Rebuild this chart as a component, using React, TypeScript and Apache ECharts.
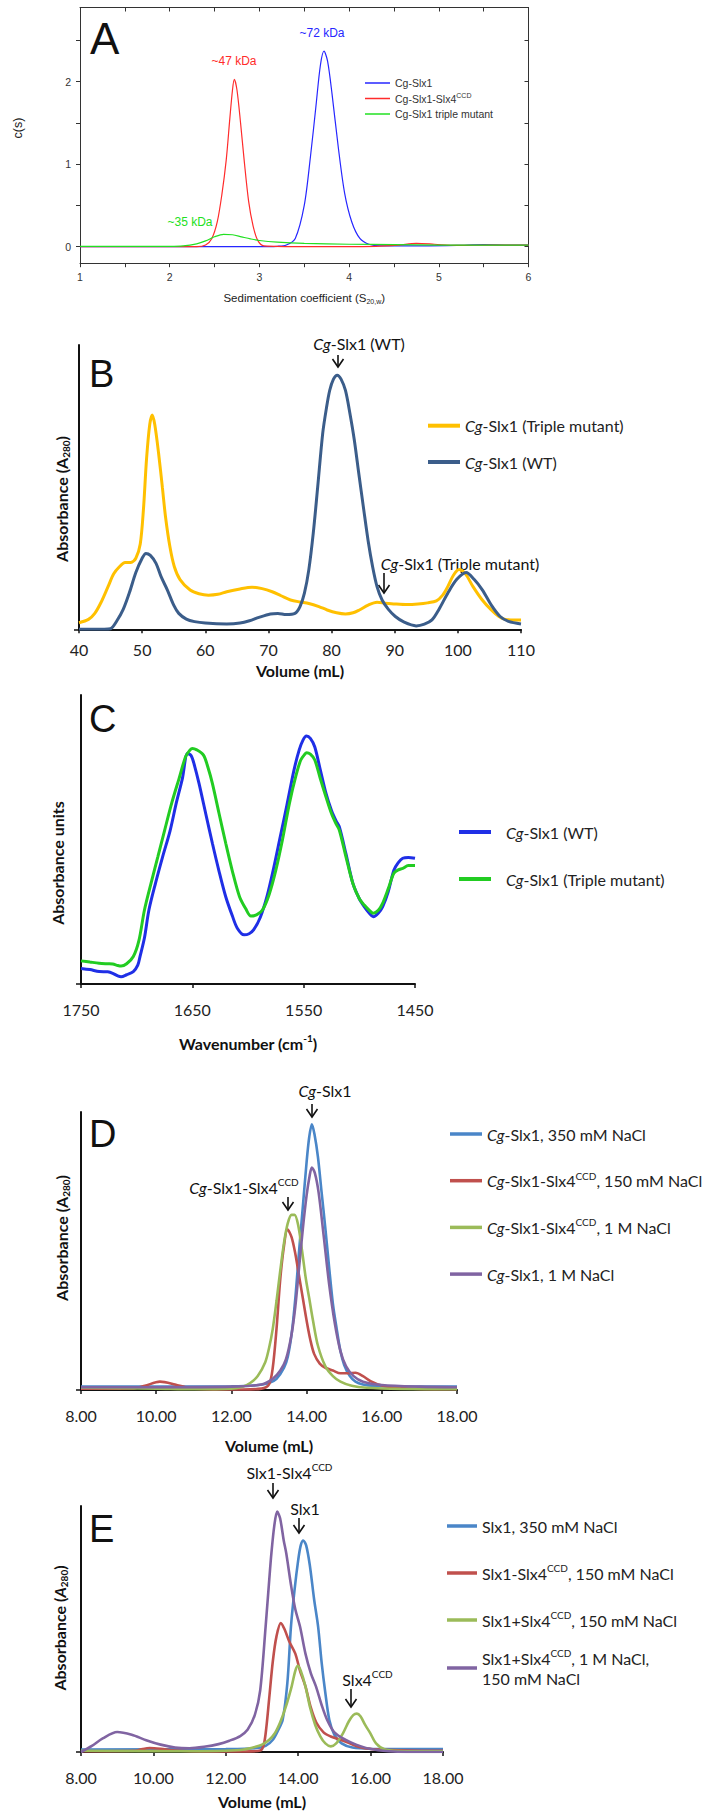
import React, { useEffect, useRef } from 'react';
import * as echarts from 'echarts';

// ---------- Panel A : c(s) distributions ----------
const aXLabelVals = [1, 2, 3, 4, 5, 6];
const aXTickVals = [1, 1.5, 2, 2.5, 3, 3.5, 4, 4.5, 5, 5.5, 6];
const aYLabelVals = [0, 1, 2];
const aYTickVals = [0, 0.5, 1, 1.5, 2, 2.5];
const aBlue = [[1, 0], [2, 0], [3, 0], [3.2, 0.005], [3.3, 0.02], [3.4, 0.1], [3.5, 0.5], [3.57, 1.1], [3.63, 1.7], [3.68, 2.2], [3.72, 2.37], [3.76, 2.25], [3.81, 1.85], [3.88, 1.2], [3.95, 0.65], [4.03, 0.3], [4.12, 0.1], [4.22, 0.03], [4.35, 0.01], [4.8, 0.01], [5.2, 0.015], [5.5, 0.025], [5.8, 0.02], [6, 0.02]];
const aRed = [[1, 0], [2.3, 0], [2.4, 0.02], [2.47, 0.1], [2.53, 0.3], [2.58, 0.62], [2.63, 1.05], [2.67, 1.55], [2.7, 1.9], [2.72, 2.03], [2.75, 1.9], [2.79, 1.5], [2.83, 1.05], [2.88, 0.55], [2.93, 0.25], [2.98, 0.08], [3.05, 0.01], [3.5, 0], [4.3, 0.005], [4.55, 0.02], [4.75, 0.04], [4.95, 0.03], [5.2, 0.015], [5.6, 0.02], [6, 0.02]];
const aGreen = [[1, 0.005], [2.0, 0.005], [2.15, 0.01], [2.3, 0.035], [2.4, 0.07], [2.5, 0.12], [2.6, 0.15], [2.7, 0.145], [2.8, 0.12], [2.9, 0.095], [3.0, 0.075], [3.2, 0.055], [3.5, 0.04], [4.0, 0.03], [4.5, 0.025], [5.0, 0.02], [6, 0.02]];

// ---------- Panel B : SEC, volume (mL) ----------
const bXMin = 40, bXMax = 110, bXStep = 10;
const bTriple = [[40, 2.3], [41.5, 3.5], [42.5, 5.6], [43.5, 9.5], [44.6, 15], [45.5, 19.5], [46.4, 22], [47.3, 23.5], [48.2, 23.5], [49, 25], [49.7, 30], [50.2, 42], [50.7, 60], [51.2, 72], [51.6, 75.4], [52, 72], [52.6, 62], [53.2, 50], [53.7, 39.6], [54.4, 29], [55.1, 22], [56, 17.5], [57.6, 13.8], [59, 12.5], [60.5, 12], [62, 12.3], [63.4, 13.2], [65.5, 14.2], [67.4, 14.8], [69, 14.3], [70.6, 13.2], [72, 11.8], [73.5, 10.3], [75, 9.6], [76.4, 9.1], [78, 8], [79.3, 6.8], [80.8, 5.8], [82.2, 5.4], [83.4, 5.8], [84.4, 6.8], [85.8, 8.5], [87.2, 9.5], [88.5, 9.2], [90.1, 8.9], [92, 8.7], [93.7, 8.9], [95.2, 9.3], [96.6, 10], [97.6, 12], [98.4, 15], [99.3, 19], [100.2, 21], [101.2, 19.5], [102.4, 15], [103.8, 10.5], [105.3, 6.8], [106.5, 4.5], [107.5, 3.5], [109, 3.3], [110, 3.3]];
const bWT = [[40, 0], [44, 0], [45, 0.2], [46, 3], [47, 7], [48, 13], [49, 20], [50, 25], [50.6, 26.7], [51.3, 26], [52.2, 23.2], [53, 18.5], [54, 13.8], [55, 8.5], [55.8, 5.6], [57, 3.6], [58.3, 2.7], [60, 2.2], [63.4, 1.9], [65.5, 2.2], [67, 3], [68.5, 4.2], [70.3, 5.4], [71.5, 5.6], [72.8, 5.2], [74.2, 5.6], [75, 8], [75.7, 12.7], [76.4, 21], [77.1, 33.8], [77.8, 50], [78.6, 69], [79.2, 78], [79.7, 84], [80.3, 88], [80.9, 89.4], [81.5, 88], [82.2, 84], [82.9, 76], [83.6, 66.6], [84.3, 55], [85.1, 42], [85.8, 31], [86.5, 22], [87.2, 15], [88, 10.3], [89, 7], [90.1, 4.5], [91.5, 2.5], [93.4, 1.2], [94.7, 1.8], [95.9, 3.3], [97, 7], [98.4, 12.7], [99.8, 17.5], [101.3, 20], [102.6, 17.5], [103.9, 13.8], [105.3, 8.5], [106.7, 4.5], [108, 2.8], [110, 1.9]];

// ---------- Panel C : FTIR, wavenumber (cm-1) ----------
const cXLabelVals = [1450, 1550, 1650, 1750];
const cWT = [[1750, 5.4], [1742, 5], [1733.7, 4.3], [1726, 4.2], [1721.5, 3.7], [1717, 2.8], [1714, 2.5], [1709, 3.2], [1703, 4.3], [1699, 6.5], [1697, 9.5], [1693, 16], [1689, 25.6], [1683, 35], [1676.7, 44], [1670, 53], [1664.5, 62.5], [1659, 71], [1654.3, 79.8], [1651, 79], [1648, 75.5], [1644, 69.4], [1638, 59], [1632, 48.7], [1626, 39], [1620, 30.2], [1614, 23.5], [1609.6, 19.3], [1603.5, 17], [1599, 17.4], [1595, 18.7], [1589, 23], [1583, 30.2], [1577, 40], [1571, 51], [1565, 62], [1558.7, 74], [1554, 81], [1550.6, 84.4], [1547.5, 85.8], [1544, 85], [1540, 82], [1535, 74], [1530, 66], [1525, 60], [1521, 56.5], [1518, 54.4], [1512, 45], [1505.8, 34.8], [1500, 29.5], [1495.6, 26.8], [1491, 24.5], [1487.5, 23.3], [1483, 24.5], [1479, 26.8], [1474, 32], [1469, 39.4], [1465, 42], [1461, 43.5], [1456, 43.8], [1450, 43.5]];
const cTriple = [[1750, 8], [1742, 7.6], [1733.7, 7.2], [1726, 7], [1721.5, 6.9], [1717, 6.4], [1714, 6.2], [1709, 7], [1703, 9.5], [1698, 15], [1693, 25.6], [1687, 35], [1681, 44], [1675, 53], [1668.6, 62.5], [1662, 71], [1656, 78.7], [1652, 81], [1650, 81.5], [1646, 81], [1640, 79.2], [1636, 75], [1632, 69.4], [1626, 59], [1620, 48.7], [1614, 39], [1607.6, 30.2], [1602, 26], [1597.4, 23.5], [1592, 24], [1587, 25.6], [1581, 31], [1575, 39.4], [1569, 50], [1562.8, 62.5], [1557, 72], [1552.6, 77.5], [1549, 79.5], [1547.3, 80], [1544, 79.5], [1540, 77.5], [1535, 71], [1530, 64.8], [1525, 59], [1521, 55.5], [1518, 53.3], [1512, 44], [1505.8, 34.8], [1500, 29.5], [1495.6, 27.3], [1491, 25.5], [1487.5, 24.5], [1483, 25.5], [1479, 28], [1474, 33], [1469, 38.3], [1465, 39.5], [1461, 40], [1456, 41], [1450, 41]];

// ---------- Panel D : SEC, volume (mL) ----------
const dXMin = 8, dXMax = 18, dXStep = 2;
const dSlx350 = [[8, 1.2], [10, 1.2], [12, 1.3], [12.6, 1.6], [13, 2.5], [13.2, 4], [13.4, 8], [13.5, 12], [13.6, 20], [13.7, 33], [13.8, 50], [13.9, 66], [14, 82], [14.07, 91], [14.14, 95.6], [14.21, 92], [14.3, 84], [14.4, 71], [14.5, 58], [14.6, 44], [14.7, 31], [14.8, 22], [14.9, 14], [15, 9], [15.15, 5], [15.3, 3], [15.5, 2], [15.8, 1.5], [16.5, 1.3], [18, 1.2]];
const dCplx150 = [[8, 0.5], [9.4, 0.6], [9.7, 1.5], [10.1, 3], [10.5, 2], [10.9, 0.6], [11.5, 0.2], [12.3, 0.2], [12.8, 0.5], [13.0, 2], [13.1, 8], [13.2, 22], [13.3, 40], [13.4, 52], [13.49, 57.8], [13.6, 55], [13.7, 49], [13.8, 41], [13.9, 33], [14.0, 25], [14.1, 18], [14.2, 13], [14.35, 9.5], [14.5, 8], [14.7, 7], [14.9, 6], [15.1, 6], [15.3, 6.2], [15.5, 5], [15.7, 3.2], [16, 1.6], [16.4, 0.8], [17, 0.4], [18, 0.3]];
const dCplx1M = [[8, 0.8], [10, 0.5], [11, 0.3], [12, 0.5], [12.3, 1.2], [12.5, 2.5], [12.7, 5], [12.9, 10], [13.0, 15], [13.1, 22], [13.2, 32], [13.3, 43], [13.4, 53], [13.5, 60], [13.6, 63], [13.68, 63], [13.78, 59], [13.88, 50], [13.98, 40], [14.07, 33], [14.17, 25], [14.3, 16], [14.5, 8.5], [14.7, 5], [14.9, 3], [15.2, 1.5], [15.6, 0.8], [16.5, 0.4], [18, 0.3]];
const dSlx1M = [[8, 1], [10, 1], [12, 1.2], [12.8, 2], [13.1, 4], [13.3, 7], [13.45, 11], [13.6, 20], [13.7, 30], [13.8, 44], [13.9, 58], [14, 70], [14.08, 77], [14.14, 80], [14.22, 78], [14.32, 71], [14.45, 56], [14.6, 38], [14.75, 24], [14.9, 14], [15.05, 8.5], [15.25, 5], [15.5, 3], [16, 1.8], [17, 1.2], [18, 1]];

// ---------- Panel E : SEC, volume (mL) ----------
const eXMin = 8, eXMax = 18, eXStep = 2;
const eSlx350 = [[8, 1], [12, 1.2], [12.8, 1.5], [13.1, 2.5], [13.3, 5], [13.45, 9], [13.57, 13], [13.7, 28], [13.8, 51], [13.9, 66], [14, 78], [14.07, 84], [14.14, 86], [14.22, 84], [14.32, 76], [14.44, 62], [14.55, 51], [14.65, 36], [14.75, 24], [14.86, 13], [15, 7], [15.2, 3.5], [15.5, 1.8], [16, 1.3], [18, 1.2]];
const eCplx150 = [[8, 0.3], [9.5, 0.5], [9.7, 1.2], [9.9, 1.6], [10.2, 1.3], [10.6, 0.6], [11.5, 0.2], [12.5, 0.2], [12.95, 0.6], [13.05, 3], [13.12, 10], [13.2, 22], [13.3, 37], [13.4, 47], [13.52, 52.4], [13.62, 50], [13.75, 45], [13.92, 40], [14.05, 33], [14.2, 26.7], [14.35, 18], [14.5, 12], [14.7, 8], [14.9, 6.3], [15.1, 5.3], [15.3, 4.3], [15.5, 3], [15.8, 1.6], [16.2, 1], [17, 0.6], [18, 0.5]];
const eMix150 = [[8, 0.5], [11, 0.3], [12, 0.5], [12.5, 1], [12.8, 2], [13.0, 3], [13.2, 5], [13.35, 7.5], [13.5, 12], [13.65, 18], [13.82, 26.7], [13.92, 33], [13.99, 35], [14.07, 33], [14.2, 26.7], [14.33, 18], [14.47, 11], [14.61, 6.4], [14.75, 3.5], [14.9, 2.3], [15.05, 3.5], [15.24, 7.7], [15.4, 12.5], [15.52, 15], [15.62, 15.6], [15.72, 14.5], [15.85, 11], [15.99, 7.7], [16.15, 3.5], [16.4, 1], [17, 0.3], [18, 0.3]];
const eMix1M = [[8, 0], [8.3, 2.5], [8.6, 5.5], [9, 8.1], [9.4, 7], [9.8, 4.8], [10.2, 3], [10.6, 1.8], [11, 1.5], [11.4, 2.1], [11.8, 3.2], [12.1, 4.6], [12.4, 6.5], [12.6, 9], [12.8, 15], [12.95, 25], [13.1, 51], [13.2, 70], [13.26, 80.8], [13.34, 92], [13.42, 97.7], [13.5, 95], [13.6, 86], [13.67, 80.8], [13.8, 68], [13.92, 58], [14.05, 51], [14.2, 40], [14.35, 32], [14.49, 26.7], [14.65, 19], [14.8, 13], [15, 8], [15.3, 5], [15.6, 3], [16, 1.2], [16.5, 0.3], [17, 0], [18, 0]];

// ---------- labels ----------
const legendText: Record<string, string> = {
  a1: 'Cg-Slx1',
  a2: 'Cg-Slx1-Slx4{sup|CCD}',
  a3: 'Cg-Slx1 triple mutant',
  b1: '{i|Cg}-Slx1 (Triple mutant)',
  b2: '{i|Cg}-Slx1 (WT)',
  c1: '{g| }{i|Cg}-Slx1 (WT)',
  c2: '{g| }{i|Cg}-Slx1 (Triple mutant)',
  d1: '{i|Cg}-Slx1, 350 mM NaCl',
  d2: '{i|Cg}-Slx1-Slx4{sup|CCD}, 150 mM NaCl',
  d3: '{i|Cg}-Slx1-Slx4{sup|CCD}, 1 M NaCl',
  d4: '{i|Cg}-Slx1, 1 M NaCl',
  e1: 'Slx1, 350 mM NaCl',
  e2: 'Slx1-Slx4{sup|CCD}, 150 mM NaCl',
  e3: 'Slx1+Slx4{sup|CCD}, 150 mM NaCl',
  e4: 'Slx1+Slx4{sup|CCD}, 1 M NaCl,\n150 mM NaCl',
};

const SANS = 'Lato, "Open Sans", sans-serif';
const ARIAL = '"Liberation Sans", Arial, sans-serif';

function richSet(size: number, color: string, lh: number, weight = 'normal', family = SANS) {
  const base = { fontSize: size, fontFamily: family, fontWeight: weight, color, fill: color, lineHeight: lh };
  const small = Math.round(size * 0.63);
  return {
    n: { ...base },
    i: { ...base, fontStyle: 'italic' },
    sup: { fontSize: small, fontFamily: family, fontWeight: weight, color, fill: color, lineHeight: lh / 2, verticalAlign: 'top' },
    sub: { fontSize: small, fontFamily: family, fontWeight: weight, color, fill: color, lineHeight: lh / 2, verticalAlign: 'bottom' },
    g: { width: 10, fontSize: size, lineHeight: lh },
  };
}

function txt(x: number, y: number, text: string, size: number, opts: any = {}) {
  const color = opts.color || '#111';
  const family = opts.family || SANS;
  const weight = opts.weight || 'normal';
  const lh = opts.lh || Math.round(size * 1.25);
  return {
    type: 'text',
    x, y,
    rotation: opts.rot || 0,
    silent: true,
    style: {
      text,
      fontSize: size,
      fontFamily: family,
      fontWeight: weight,
      fill: color,
      lineHeight: lh,
      align: opts.align || 'center',
      textAlign: opts.align || 'center',
      verticalAlign: 'middle',
      textVerticalAlign: 'middle',
      rich: richSet(size, color, lh, weight, family),
    },
  };
}

function arrow(x: number, y1: number, y2: number) {
  return [
    { type: 'line', silent: true, shape: { x1: x, y1, x2: x, y2 }, style: { stroke: '#111', lineWidth: 1.6 } },
    { type: 'polyline', silent: true, shape: { points: [[x - 5.5, y2 - 8], [x, y2], [x + 5.5, y2 - 8]] }, style: { stroke: '#111', lineWidth: 1.6, fill: 'none' } },
  ];
}

function line(name: string, data: number[][], xi: number, yi: number, color: string, width: number) {
  return {
    type: 'line', name, data, xAxisIndex: xi, yAxisIndex: yi,
    showSymbol: false, symbol: 'none', smooth: 0.3, silent: true,
    color, itemStyle: { color }, lineStyle: { color, width },
  };
}

function secX(gi: number, min: number, max: number, step: number, margin: number, name: string, nameGap: number, fmt: (v: number) => string) {
  return {
    type: 'value', gridIndex: gi, min, max, interval: step,
    axisLine: { show: true, onZero: false, lineStyle: { color: '#111', width: 2 } },
    axisTick: { show: true, length: 4, lineStyle: { color: '#111', width: 1.5 } },
    axisLabel: { show: true, margin, fontSize: 16, lineHeight: 18, fontFamily: SANS, color: '#222', formatter: fmt },
    splitLine: { show: false },
    name, nameLocation: 'middle', nameGap,
    nameTextStyle: { fontSize: 16, fontWeight: 'bold', fontFamily: SANS, color: '#111', lineHeight: 20, rich: richSet(16, '#111', 20, 'bold') },
  };
}

function secY(gi: number) {
  return {
    type: 'value', gridIndex: gi, min: 0, max: 100,
    axisLine: { show: true, onZero: false, lineStyle: { color: '#111', width: 2 } },
    axisTick: { show: true, customValues: [0], length: 5, lineStyle: { color: '#111', width: 1.5 } },
    axisLabel: { show: false },
    splitLine: { show: false },
  };
}

function legend(names: string[], left: number, top: number, itemW: number, itemH: number, gap: number, size: number, lh: number, family = SANS, color = '#222') {
  return {
    orient: 'vertical', left, top, padding: 0, itemGap: gap, itemWidth: itemW, itemHeight: itemH,
    icon: 'rect', selectedMode: false, data: names,
    formatter: (n: string) => legendText[n],
    textStyle: { fontSize: size, fontFamily: family, color, lineHeight: lh, rich: richSet(size, color, lh, 'normal', family) },
  };
}

export default function App() {
  const ref = useRef<HTMLDivElement>(null);
  useEffect(() => {
    if (!ref.current) return;
    const chart = echarts.init(ref.current, null, { renderer: 'svg', width: 713, height: 1814 });
    const two = (v: number) => v.toFixed(2);
    const plain = (v: number) => String(v);
    const aAxisLine = { show: true, onZero: false, lineStyle: { color: '#333', width: 1 } };
    const option: any = {
      animation: false,
      backgroundColor: '#fff',
      grid: [
        { left: 80, top: 7.5, width: 448.5, height: 255.7, outerBoundsMode: 'none' },
        { left: 79, top: 345, width: 442, height: 284.3, outerBoundsMode: 'none' },
        { left: 81, top: 695, width: 334, height: 289, outerBoundsMode: 'none' },
        { left: 81, top: 1112, width: 376, height: 278, outerBoundsMode: 'none' },
        { left: 81, top: 1506, width: 362, height: 246, outerBoundsMode: 'none' },
      ],
      xAxis: [
        {
          type: 'value', gridIndex: 0, min: 1, max: 6,
          axisLine: aAxisLine,
          axisTick: { show: true, customValues: aXTickVals, length: 4, lineStyle: { color: '#333' } },
          axisLabel: { show: true, customValues: aXLabelVals, margin: 7, fontSize: 10.5, lineHeight: 13, fontFamily: ARIAL, color: '#333' },
          splitLine: { show: false },
          name: 'Sedimentation coefficient (S{sub|20,w})', nameLocation: 'middle', nameGap: 28,
          nameTextStyle: { fontSize: 11.5, fontFamily: ARIAL, color: '#222', lineHeight: 14, rich: richSet(11.5, '#222', 14, 'normal', ARIAL) },
        },
        {
          type: 'value', gridIndex: 0, min: 1, max: 6, position: 'top',
          axisLine: aAxisLine,
          axisTick: { show: true, inside: true, customValues: aXTickVals, length: 4, lineStyle: { color: '#333' } },
          axisLabel: { show: false }, splitLine: { show: false },
        },
        secX(1, bXMin, bXMax, bXStep, 11, 'Volume (mL)', 31, plain),
        {
          ...secX(2, 1450, 1750, 100, 16, 'Wavenumber (cm{sup|-1})', 49, plain),
          inverse: true,
          axisTick: { show: true, customValues: cXLabelVals, length: 4, lineStyle: { color: '#111', width: 1.5 } },
          axisLabel: { show: true, customValues: cXLabelVals, margin: 16, fontSize: 16, lineHeight: 18, fontFamily: SANS, color: '#222', formatter: plain },
        },
        secX(3, dXMin, dXMax, dXStep, 16, 'Volume (mL)', 45, two),
        secX(4, eXMin, eXMax, eXStep, 16, 'Volume (mL)', 39, two),
      ],
      yAxis: [
        {
          type: 'value', gridIndex: 0, min: -0.2, max: 2.9,
          axisLine: aAxisLine,
          axisTick: { show: true, customValues: aYTickVals, length: 4, lineStyle: { color: '#333' } },
          axisLabel: { show: true, customValues: aYLabelVals, margin: 9, fontSize: 10.5, fontFamily: ARIAL, color: '#333' },
          splitLine: { show: false },
        },
        {
          type: 'value', gridIndex: 0, min: -0.2, max: 2.9, position: 'right',
          axisLine: aAxisLine,
          axisTick: { show: true, inside: true, customValues: aYTickVals, length: 4, lineStyle: { color: '#333' } },
          axisLabel: { show: false }, splitLine: { show: false },
        },
        secY(1), secY(2), secY(3), secY(4),
      ],
      legend: [
        legend(['a1', 'a2', 'a3'], 365, 76, 25, 1.5, 1.5, 10.5, 14, ARIAL, '#333'),
        legend(['b1', 'b2'], 428, 415.7, 32, 4, 16.3, 16, 20),
        legend(['c1', 'c2'], 459, 822, 32, 4, 27, 16, 20),
        legend(['d1', 'd2', 'd3', 'd4'], 450, 1124, 32, 3.5, 26.7, 16, 20),
        legend(['e1', 'e2', 'e3'], 447, 1516, 30, 3.5, 27, 16, 20),
        legend(['e4'], 447, 1648, 30, 3.5, 10, 16, 20),
      ],
      series: [
        line('a1', aBlue, 0, 0, '#2626ff', 1.2),
        line('a2', aRed, 0, 0, '#ff2b2b', 1.2),
        line('a3', aGreen, 0, 0, '#22e022', 1.2),
        line('b1', bTriple, 2, 2, '#ffc000', 3),
        line('b2', bWT, 2, 2, '#3b5d8a', 3),
        line('c1', cWT, 3, 3, '#1f2fe6', 3),
        line('c2', cTriple, 3, 3, '#22cc22', 3),
        line('d1', dSlx350, 4, 4, '#4a86c8', 2.6),
        line('d2', dCplx150, 4, 4, '#c0504d', 2.6),
        line('d3', dCplx1M, 4, 4, '#9bbb59', 2.6),
        line('d4', dSlx1M, 4, 4, '#8064a2', 2.6),
        line('e1', eSlx350, 5, 5, '#4a86c8', 2.6),
        line('e2', eCplx150, 5, 5, '#c0504d', 2.6),
        line('e3', eMix150, 5, 5, '#9bbb59', 2.6),
        line('e4', eMix1M, 5, 5, '#8064a2', 2.6),
      ],
      graphic: [
        // panel letters
        txt(90, 38, 'A', 44, { family: ARIAL, align: 'left', lh: 50 }),
        txt(89, 374, 'B', 38, { family: ARIAL, align: 'left', lh: 44 }),
        txt(89, 719, 'C', 38, { family: ARIAL, align: 'left', lh: 44 }),
        txt(89, 1134, 'D', 38, { family: ARIAL, align: 'left', lh: 44 }),
        txt(89, 1529, 'E', 38, { family: ARIAL, align: 'left', lh: 44 }),
        // panel A annotations
        txt(322, 33, '~72 kDa', 12, { family: ARIAL, color: '#2626ff' }),
        txt(234, 61, '~47 kDa', 12, { family: ARIAL, color: '#ff2b2b' }),
        txt(190, 222, '~35 kDa', 12, { family: ARIAL, color: '#22e022' }),
        // y titles
        txt(18, 128, 'c(s)', 12.5, { family: ARIAL, color: '#222', rot: Math.PI / 2 }),
        txt(61, 499, 'Absorbance (A{sub|280})', 16, { weight: 'bold', rot: Math.PI / 2, lh: 20 }),
        txt(57, 863, 'Absorbance units', 16, { weight: 'bold', rot: Math.PI / 2, lh: 20 }),
        txt(61, 1238, 'Absorbance (A{sub|280})', 16, { weight: 'bold', rot: Math.PI / 2, lh: 20 }),
        txt(59, 1628, 'Absorbance ({i|A}{sub|280})', 16, { weight: 'bold', rot: Math.PI / 2, lh: 20 }),
        // peak annotations
        txt(359, 343, '{i|Cg}-Slx1 (WT)', 16, { lh: 20 }),
        ...arrow(338, 355, 367),
        txt(460, 563, '{i|Cg}-Slx1 (Triple mutant)', 16, { lh: 20 }),
        ...arrow(384, 573, 593),
        txt(325, 1090, '{i|Cg}-Slx1', 16, { lh: 20 }),
        ...arrow(312, 1104, 1117),
        txt(244, 1187, '{i|Cg}-Slx1-Slx4{sup|CCD}', 16, { lh: 20 }),
        ...arrow(288, 1197, 1210),
        txt(289.5, 1472, 'Slx1-Slx4{sup|CCD}', 16, { lh: 20 }),
        ...arrow(273, 1483, 1498),
        txt(305, 1508, 'Slx1', 16, { lh: 20 }),
        ...arrow(299, 1518, 1533),
        txt(367.5, 1679, 'Slx4{sup|CCD}', 16, { lh: 20 }),
        ...arrow(351, 1689, 1707),
      ],
    };
    chart.setOption(option);
    return () => chart.dispose();
  }, []);
  return <div ref={ref} style={{ position: 'absolute', left: 0, top: 0, width: 713, height: 1814, background: '#fff' }} />;
}
